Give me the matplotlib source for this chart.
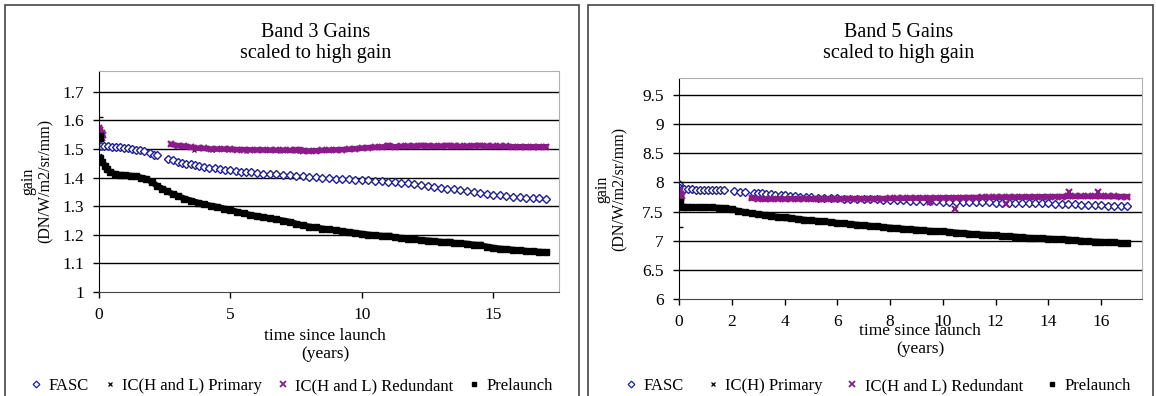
import numpy as np
import matplotlib.pyplot as plt
from matplotlib.patches import Rectangle
from matplotlib.lines import Line2D

plt.rcParams['font.family'] = ['Liberation Serif', 'DejaVu Serif']

# ---------------- Band 3 data (years since launch, gain) ----------------
pre3_t = [0.0, 0.05, 0.12, 0.23, 0.32, 0.42, 0.61, 0.8, 1.0, 1.2,
          1.4, 1.6, 1.8, 2.0, 2.2, 2.4, 2.6, 2.8, 3.0, 3.25,
          3.5, 3.75, 4.0, 4.25, 4.5, 4.75, 5.0, 5.25, 5.5, 5.75,
          6.0, 6.25, 6.5, 6.75, 7.0, 7.25, 7.5, 7.75, 8.0, 8.25,
          8.5, 8.75, 9.0, 9.25, 9.5, 9.75, 10.0, 10.25, 10.5, 10.75,
          11.0, 11.25, 11.5, 11.75, 12.0, 12.25, 12.5, 12.75, 13.0, 13.25,
          13.5, 13.75, 14.0, 14.25, 14.5, 14.75, 15.0, 15.25, 15.5, 15.75,
          16.0, 16.25, 16.5, 16.75, 17.0]
pre3_v = [1.541, 1.47, 1.455, 1.442, 1.43, 1.419, 1.413, 1.41, 1.409, 1.407,
          1.405, 1.40, 1.396, 1.385, 1.372, 1.362, 1.352, 1.343, 1.336, 1.327,
          1.32, 1.313, 1.307, 1.302, 1.298, 1.292, 1.287, 1.281, 1.275, 1.27,
          1.266, 1.262, 1.258, 1.254, 1.25, 1.246, 1.239, 1.233, 1.229, 1.226,
          1.222, 1.219, 1.216, 1.213, 1.21, 1.207, 1.204, 1.201, 1.199, 1.197,
          1.195, 1.192, 1.189, 1.187, 1.185, 1.182, 1.18, 1.178, 1.176, 1.174,
          1.172, 1.171, 1.169, 1.166, 1.163, 1.159, 1.155, 1.152, 1.15, 1.148,
          1.146, 1.144, 1.142, 1.141, 1.14]
pre3_err_t = [0.0, 7.2, 11.0, 12.5, 13.3, 14.4]
pre3_err_v = [1.541, 1.247, 1.197, 1.181, 1.176, 1.166]
pre3_err_e = [0.071, 0.006, 0.009, 0.009, 0.009, 0.009]

fasc3_t = [0.0, 0.08, 0.2, 0.35, 0.5, 0.65, 0.8, 0.95, 1.1, 1.25,
           1.4, 1.55, 1.7, 1.95, 2.1, 2.2, 2.64, 2.8, 3.0, 3.15,
           3.3, 3.5, 3.65, 3.8, 4.0, 4.2, 4.4, 4.6, 4.8, 5.0,
           5.2, 5.4, 5.6, 5.8, 6.0, 6.25, 6.5, 6.75, 7.0, 7.25,
           7.5, 7.75, 8.0, 8.25, 8.5, 8.75, 9.0, 9.25, 9.5, 9.75,
           10.0, 10.25, 10.5, 10.75, 11.0, 11.25, 11.5, 11.75, 12.0, 12.25,
           12.5, 12.75, 13.0, 13.25, 13.5, 13.75, 14.0, 14.25, 14.5, 14.75,
           15.0, 15.25, 15.5, 15.75, 16.0, 16.25, 16.5, 16.75, 17.0]
fasc3_v = [1.512, 1.51, 1.51, 1.509, 1.508, 1.508, 1.507, 1.505, 1.503, 1.5,
           1.498, 1.496, 1.494, 1.485, 1.48, 1.478, 1.466, 1.462, 1.456, 1.452,
           1.449, 1.446, 1.443, 1.441, 1.438, 1.435, 1.432, 1.43, 1.427, 1.425,
           1.423, 1.421, 1.42, 1.418, 1.416, 1.414, 1.412, 1.411, 1.41, 1.409,
           1.407, 1.405, 1.403, 1.401, 1.399, 1.397, 1.396, 1.395, 1.394, 1.393,
           1.392, 1.391, 1.389, 1.387, 1.386, 1.385, 1.383, 1.38, 1.377, 1.374,
           1.371, 1.368, 1.365, 1.362, 1.359, 1.356, 1.353, 1.35, 1.347, 1.344,
           1.341, 1.339, 1.336, 1.334, 1.332, 1.33, 1.329, 1.328, 1.327]

prim3_t = [3.6, 4.3, 4.9, 5.6, 6.2, 6.9, 7.5]
prim3_v = [1.497, 1.496, 1.495, 1.494, 1.495, 1.494, 1.494]

red3_start_t = [0.0, 0.02, 0.04, 0.06, 0.08, 0.1, 0.12, 0.15]
red3_start_v = [1.575, 1.56, 1.568, 1.55, 1.545, 1.555, 1.54, 1.548]
red3_t = [2.75, 3.0, 3.25, 3.5, 3.75, 4.0, 4.25, 4.5, 4.75, 5.0,
          5.25, 5.5, 5.75, 6.0, 6.25, 6.5, 6.75, 7.0, 7.25, 7.5,
          7.75, 8.0, 8.25, 8.5, 8.75, 9.0, 9.25, 9.5, 9.75, 10.0,
          10.25, 10.5, 10.75, 11.0, 11.25, 11.5, 11.75, 12.0, 12.25, 12.5,
          12.75, 13.0, 13.25, 13.5, 13.75, 14.0, 14.25, 14.5, 14.75, 15.0,
          15.25, 15.5, 15.75, 16.0, 16.25, 16.5, 16.75, 17.0]
red3_v = [1.516, 1.512, 1.51, 1.506, 1.503, 1.502, 1.5, 1.5, 1.5, 1.499,
          1.498, 1.498, 1.497, 1.497, 1.497, 1.496, 1.496, 1.496, 1.495, 1.496,
          1.494, 1.493, 1.494, 1.495, 1.496, 1.497, 1.498, 1.499, 1.501, 1.503,
          1.505, 1.506, 1.507, 1.509, 1.508, 1.509, 1.51, 1.51, 1.512, 1.511,
          1.51, 1.51, 1.512, 1.51, 1.509, 1.51, 1.511, 1.512, 1.51, 1.509,
          1.509, 1.509, 1.508, 1.508, 1.508, 1.508, 1.508, 1.508]
red3_err_t = [7.6, 11.0, 12.3, 13.3, 14.4]
red3_err_v = [1.5, 1.512, 1.514, 1.514, 1.514]
red3_err_e = [0.007, 0.008, 0.008, 0.008, 0.008]

# ---------------- Band 5 data ----------------
pre5_t = [0.0, 0.05, 0.15, 0.3, 0.5, 0.75, 1.0, 1.25, 1.5, 1.75,
          2.0, 2.25, 2.5, 2.75, 3.0, 3.25, 3.5, 3.75, 4.0, 4.25,
          4.5, 4.75, 5.0, 5.25, 5.5, 5.75, 6.0, 6.25, 6.5, 6.75,
          7.0, 7.25, 7.5, 7.75, 8.0, 8.25, 8.5, 8.75, 9.0, 9.25,
          9.5, 9.75, 10.0, 10.25, 10.5, 10.75, 11.0, 11.25, 11.5, 11.75,
          12.0, 12.25, 12.5, 12.75, 13.0, 13.25, 13.5, 13.75, 14.0, 14.25,
          14.5, 14.75, 15.0, 15.25, 15.5, 15.75, 16.0, 16.25, 16.5, 16.75,
          17.0]
pre5_v = [7.64, 7.60, 7.58, 7.575, 7.575, 7.575, 7.57, 7.57, 7.565, 7.56,
          7.54, 7.51, 7.49, 7.47, 7.455, 7.44, 7.425, 7.41, 7.40, 7.39,
          7.375, 7.36, 7.35, 7.34, 7.33, 7.32, 7.305, 7.295, 7.285, 7.275,
          7.265, 7.255, 7.245, 7.235, 7.225, 7.215, 7.205, 7.195, 7.19, 7.18,
          7.17, 7.165, 7.16, 7.15, 7.14, 7.13, 7.12, 7.11, 7.105, 7.10,
          7.09, 7.08, 7.075, 7.07, 7.06, 7.05, 7.045, 7.04, 7.035, 7.03,
          7.025, 7.02, 7.01, 7.0, 6.99, 6.985, 6.98, 6.975, 6.97, 6.96,
          6.955]
pre5_err_t = [0.0, 0.9, 1.8, 4.1, 7.9, 9.4, 10.8, 16.2]
pre5_err_v = [7.64, 7.575, 7.56, 7.40, 7.23, 7.175, 7.13, 6.975]
pre5_err_lo = [0.41, 0.0, 0.0, 0.04, 0.0, 0.0, 0.03, 0.0]
pre5_err_hi = [0.36, 0.03, 0.03, 0.04, 0.03, 0.03, 0.03, 0.03]

fasc5_t = [0.0, 0.02, 0.1, 0.2, 0.35, 0.5, 0.65, 0.8, 0.95, 1.1,
           1.25, 1.4, 1.55, 1.7, 2.1, 2.3, 2.5, 2.85, 3.0, 3.15,
           3.3, 3.5, 3.65, 3.85, 4.0, 4.2, 4.4, 4.6, 4.8, 5.0,
           5.25, 5.5, 5.75, 6.0, 6.25, 6.5, 6.75, 7.0, 7.25, 7.5,
           7.75, 8.0, 8.25, 8.5, 8.75, 9.0, 9.25, 9.5, 9.75, 10.0,
           10.25, 10.5, 10.75, 11.0, 11.25, 11.5, 11.75, 12.0, 12.25, 12.5,
           12.75, 13.0, 13.25, 13.5, 13.75, 14.0, 14.25, 14.5, 14.75, 15.0,
           15.25, 15.5, 15.75, 16.0, 16.25, 16.5, 16.75, 17.0]
fasc5_v = [7.98, 7.9, 7.885, 7.88, 7.88, 7.878, 7.876, 7.875, 7.872, 7.87,
           7.87, 7.868, 7.865, 7.862, 7.845, 7.84, 7.835, 7.82, 7.815, 7.81,
           7.80, 7.795, 7.79, 7.78, 7.775, 7.765, 7.76, 7.755, 7.75, 7.745,
           7.74, 7.735, 7.73, 7.725, 7.722, 7.72, 7.718, 7.715, 7.712, 7.708,
           7.704, 7.70, 7.696, 7.692, 7.688, 7.684, 7.68, 7.677, 7.674, 7.671,
           7.668, 7.665, 7.663, 7.66, 7.658, 7.656, 7.655, 7.654, 7.653, 7.652,
           7.65, 7.648, 7.646, 7.644, 7.642, 7.64, 7.636, 7.632, 7.627, 7.622,
           7.617, 7.612, 7.608, 7.605, 7.601, 7.598, 7.594, 7.59]

prim5_t = [3.5, 4.5, 5.5, 6.5]
prim5_v = [7.72, 7.72, 7.72, 7.72]

red5_start_t = [0.0, 0.02, 0.04, 0.06, 0.08, 0.1]
red5_start_v = [7.82, 7.78, 7.85, 7.74, 7.80, 7.76]
red5_t = [2.75, 3.0, 3.25, 3.5, 3.75, 4.0, 4.25, 4.5, 4.75, 5.0,
          5.25, 5.5, 5.75, 6.0, 6.25, 6.5, 6.75, 7.0, 7.25, 7.5,
          7.75, 8.0, 8.25, 8.5, 8.75, 9.0, 9.25, 9.5, 9.75, 10.0,
          10.25, 10.5, 10.75, 11.0, 11.25, 11.5, 11.75, 12.0, 12.25, 12.5,
          12.75, 13.0, 13.25, 13.5, 13.75, 14.0, 14.25, 14.5, 14.75, 15.0,
          15.25, 15.5, 15.75, 16.0, 16.25, 16.5, 16.75, 17.0]
red5_v = [7.73, 7.72, 7.71, 7.715, 7.72, 7.715, 7.72, 7.715, 7.72, 7.72,
          7.715, 7.72, 7.72, 7.715, 7.72, 7.72, 7.718, 7.72, 7.72, 7.722,
          7.722, 7.725, 7.725, 7.728, 7.73, 7.73, 7.73, 7.732, 7.733, 7.735,
          7.735, 7.737, 7.738, 7.74, 7.74, 7.742, 7.743, 7.745, 7.745, 7.747,
          7.748, 7.75, 7.75, 7.752, 7.753, 7.755, 7.755, 7.757, 7.758, 7.76,
          7.76, 7.76, 7.76, 7.76, 7.758, 7.758, 7.756, 7.755]
red5_out_t = [9.5, 10.45, 12.4, 14.8, 15.9]
red5_out_v = [7.66, 7.55, 7.63, 7.83, 7.83]

BLUE = '#1e1e96'
PURPLE = '#8c1a8a'

fig = plt.figure(figsize=(11.56, 3.96), dpi=100)
W, H = 1156, 396

# outer chart frames
for x0, x1 in [(5, 579), (588, 1153)]:
    fig.patches.append(Rectangle((x0 / W, -0.05), (x1 - x0) / W, 1.05 - 5 / H,
                                 transform=fig.transFigure, fill=False,
                                 edgecolor='#444444', lw=1.2))

ax1 = fig.add_axes([99 / W, (H - 292) / H, 460 / W, 221 / H])
ax2 = fig.add_axes([679 / W, (H - 299) / H, 463 / W, 221 / H])


def style(ax, xlim, ylim, xticks, yticks, ylabels):
    ax.set_xlim(*xlim)
    ax.set_ylim(*ylim)
    ax.set_xticks(xticks)
    ax.set_yticks(yticks)
    ax.set_yticklabels(ylabels)
    for y in yticks[1:]:
        ax.axhline(y, color='black', lw=1.0, zorder=0)
    ax.spines['left'].set_color('black')
    ax.spines['bottom'].set_color('#444444')
    for s in ['top', 'right']:
        ax.spines[s].set_color('#b0b0b0')
    ax.tick_params(direction='out', length=4, width=1, pad=7, labelsize=12.5,
                   top=False, right=False)


def draw(ax, pre_t, pre_v, fasc_t, fasc_v, prim_t, prim_v, rs_t, rs_v, r_t, r_v):
    ax.plot(prim_t, prim_v, ls='none', marker='x', ms=3, mew=0.8, color='black', zorder=2)
    ax.plot(fasc_t, fasc_v, ls='none', marker='D', ms=3.8, mfc='white', mec=BLUE,
            mew=1.0, zorder=3)
    ax.plot(rs_t, rs_v, ls='none', marker='x', ms=4.5, mew=1.6, color=PURPLE, zorder=4)
    ax.plot(r_t, r_v, ls='-', lw=4.0, marker='x', ms=4.5, mew=1.6, color=PURPLE, zorder=4)
    ax.plot(pre_t[1:], pre_v[1:], ls='-', lw=4.3, marker='s', ms=4, color='black', zorder=5)
    ax.plot(pre_t[:1], pre_v[:1], ls='none', marker='s', ms=5.5, color='black', zorder=5)


draw(ax1, pre3_t, pre3_v, fasc3_t, fasc3_v, prim3_t, prim3_v,
     red3_start_t, red3_start_v, red3_t, red3_v)
ax1.errorbar(pre3_err_t, pre3_err_v, yerr=pre3_err_e, fmt='none', ecolor='black',
             elinewidth=1.2, capsize=3, zorder=5)
ax1.errorbar(red3_err_t, red3_err_v, yerr=red3_err_e, fmt='none', ecolor=PURPLE,
             elinewidth=1.2, capsize=3, zorder=4)
style(ax1, (0, 17.5), (1, 1.773), [0, 5, 10, 15],
      [1.0, 1.1, 1.2, 1.3, 1.4, 1.5, 1.6, 1.7],
      ['1', '1.1', '1.2', '1.3', '1.4', '1.5', '1.6', '1.7'])

draw(ax2, pre5_t, pre5_v, fasc5_t, fasc5_v, prim5_t, prim5_v,
     red5_start_t, red5_start_v, red5_t, red5_v)
ax2.plot(red5_out_t, red5_out_v, ls='none', marker='x', ms=4.5, mew=1.6, color=PURPLE, zorder=4)
ax2.errorbar(pre5_err_t, pre5_err_v, yerr=[pre5_err_lo, pre5_err_hi], fmt='none',
             ecolor='black', elinewidth=1.2, capsize=3, zorder=5)
style(ax2, (0, 17.55), (6, 9.79), [0, 2, 4, 6, 8, 10, 12, 14, 16],
      [6.0, 6.5, 7.0, 7.5, 8.0, 8.5, 9.0, 9.5],
      ['6', '6.5', '7', '7.5', '8', '8.5', '9', '9.5'])

# titles and axis labels
fig.text(316 / W, 1 - 43 / H, 'Band 3 Gains\nscaled to high gain', ha='center',
         va='center', fontsize=14.5, linespacing=1.2)
fig.text(899 / W, 1 - 43 / H, 'Band 5 Gains\nscaled to high gain', ha='center',
         va='center', fontsize=14.5, linespacing=1.2)
fig.text(37 / W, 1 - 181 / H, 'gain\n(DN/W/m2/sr/mm)', rotation=90, ha='center',
         va='center', fontsize=11.5, multialignment='center', linespacing=1.1)
fig.text(611 / W, 1 - 189 / H, 'gain\n(DN/W/m2/sr/mm)', rotation=90, ha='center',
         va='center', fontsize=11.5, multialignment='center', linespacing=1.1)
fig.text(325 / W, 1 - 345 / H, 'time since launch\n(years)', ha='center',
         va='center', fontsize=12.5, linespacing=1.2)
fig.text(920 / W, 1 - 340 / H, 'time since launch\n(years)', ha='center',
         va='center', fontsize=12.5, linespacing=1.2)


def handles(primary_label):
    return [
        Line2D([], [], ls='none', marker='D', ms=3.4, mfc='white', mec=BLUE, mew=0.9, label='FASC'),
        Line2D([], [], ls='none', marker='x', ms=3, mew=0.9, color='black', label=primary_label),
        Line2D([], [], ls='none', marker='x', ms=4, mew=1.3, color=PURPLE, label='IC(H and L) Redundant'),
        Line2D([], [], ls='none', marker='s', ms=3.5, color='black', label='Prelaunch'),
    ]


fig.legend(handles=handles('IC(H and L) Primary'), loc='center left',
           bbox_to_anchor=(31 / W, 1 - 386 / H), ncol=4, frameon=False,
           fontsize=12, handlelength=0.6, handletextpad=0.45, columnspacing=0.95,
           borderpad=0, borderaxespad=0)
fig.legend(handles=handles('IC(H) Primary'), loc='center left',
           bbox_to_anchor=(626 / W, 1 - 386 / H), ncol=4, frameon=False,
           fontsize=12, handlelength=0.6, handletextpad=0.45, columnspacing=1.45,
           borderpad=0, borderaxespad=0)

fig.savefig('out.png', dpi=100)
